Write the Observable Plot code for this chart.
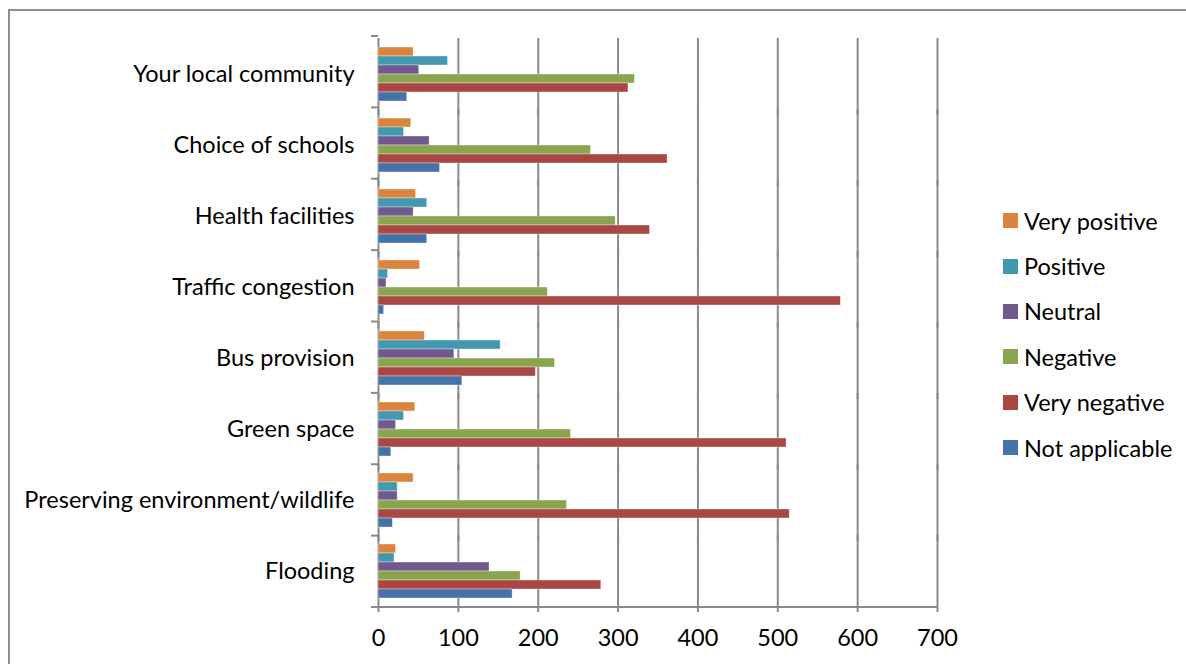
<!DOCTYPE html>
<html>
<head>
<meta charset="utf-8">
<script src="https://cdn.jsdelivr.net/npm/d3@7"></script>
<script src="https://cdn.jsdelivr.net/npm/@observablehq/plot@0.6"></script>
<style>
  html, body { margin: 0; padding: 0; background: #fff; overflow: hidden; }
  #wrap { position: relative; width: 1186px; height: 664px; overflow: hidden; font-family: Lato, "Open Sans", sans-serif; }
  #frame { position: absolute; left: 8px; top: 9px; width: 1400px; height: 900px; border: 2px solid #8f8f8f; box-sizing: border-box; }
  #chart { position: absolute; left: 0; top: 0; }
  #legend { position: absolute; left: 1003px; top: 198px; }
  .item { display: flex; align-items: center; height: 45.4px; font-size: 23.5px; color: #000; }
  .sw { width: 15px; height: 15px; margin-right: 6px; }
</style>
</head>
<body>
<div id="wrap">
  <div id="frame"></div>
  <div id="chart"></div>
  <div id="legend"></div>
</div>
<script>
const categories = ["Your local community", "Choice of schools", "Health facilities", "Traffic congestion", "Bus provision", "Green space", "Preserving environment/wildlife", "Flooding"];
const series = ["Very positive", "Positive", "Neutral", "Negative", "Very negative", "Not applicable"];
const veryPositive  = [44, 41, 47, 52, 58, 46, 44, 22];
const positive      = [87, 32, 61, 12, 153, 32, 24, 20];
const neutral       = [51, 64, 44, 10, 95, 22, 24, 139];
const negative      = [321, 266, 297, 212, 221, 241, 236, 178];
const veryNegative  = [313, 362, 340, 579, 197, 511, 515, 279];
const notApplicable = [36, 77, 61, 7, 105, 16, 18, 168];
const xTicks = [0, 100, 200, 300, 400, 500, 600, 700];
const colors = ["#DB843D", "#4198AF", "#71588F", "#89A54E", "#AA4643", "#4572A7"];

const seriesValues = [veryPositive, positive, neutral, negative, veryNegative, notApplicable];
const rows = [];
categories.forEach((c, i) => {
  series.forEach((s, j) => rows.push({category: c, series: s, value: seriesValues[j][i]}));
});

const plot = Plot.plot({
  width: 960,
  height: 664,
  marginLeft: 378,
  marginRight: 23,
  marginTop: 36,
  marginBottom: 57,
  style: {fontFamily: "Lato, 'Open Sans', sans-serif", fontSize: "23.5px", color: "#000", background: "transparent"},
  facet: {data: rows, y: "category", marginLeft: 378, marginRight: 23},
  fy: {domain: categories, padding: 0, axis: "left", label: null, tickSize: 0, tickPadding: 24},
  y: {domain: series, paddingInner: 0, paddingOuter: 0.8, axis: null},
  x: {domain: [0, 700], ticks: xTicks, tickSize: 0, tickPadding: 23, tickFormat: d => String(d), label: null},
  color: {domain: series, range: colors},
  marks: [
    Plot.ruleX(xTicks, {stroke: "#8a8a8a", strokeWidth: 2, insetBottom: -6}),
    Plot.barX(rows, {x: "value", y: "series", fill: "series", stroke: "#ffffff", strokeOpacity: 0.45, strokeWidth: 0.8})
  ]
});
document.getElementById("chart").appendChild(plot);

// axis line and category boundary ticks drawn from the plot's own scales
const fy = plot.scale("fy");
const xs = plot.scale("x");
const xScale = d3.scaleLinear().domain(xs.domain).range(xs.range);
const y0 = fy.range[0], y1 = fy.range[1];
const step = (y1 - y0) / fy.domain.length;
const svg = d3.select(plot.tagName.toLowerCase() === "svg" ? plot : plot.querySelector("svg"));
const g = svg.append("g").attr("stroke", "#8a8a8a").attr("stroke-width", 2);
for (let i = 0; i <= fy.domain.length; i++) {
  const yy = y0 + i * step;
  g.append("line").attr("x1", xScale(0) - 7).attr("x2", xScale(0)).attr("y1", yy).attr("y2", yy);
}
g.append("line").attr("x1", xScale(0) - 7).attr("x2", xScale(700) + 1).attr("y1", y1).attr("y2", y1);

const legend = document.getElementById("legend");
series.forEach((s, j) => {
  const it = document.createElement("div");
  it.className = "item";
  const sw = document.createElement("div");
  sw.className = "sw";
  sw.style.background = colors[j];
  const t = document.createElement("span");
  t.textContent = s;
  it.appendChild(sw); it.appendChild(t);
  legend.appendChild(it);
});
</script>
</body>
</html>
